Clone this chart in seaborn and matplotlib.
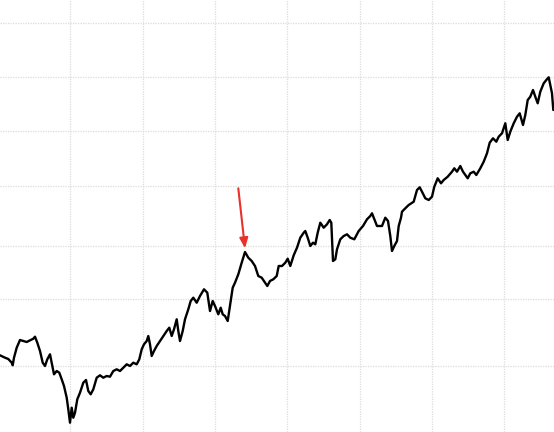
import matplotlib
matplotlib.use("Agg")
import matplotlib.pyplot as plt
import seaborn as sns
import pandas as pd

# series (x: time index, y: level)
xs = [0, 5, 8.3, 11.7, 12.7, 14, 16.7, 20, 23.3, 26.7, 30, 33.3, 35, 37.3, 40, 42.7, 45, 47.3, 50, 51.7,
      54, 56.7, 59.3, 61.7, 64, 66.7, 68.3, 70, 71.7, 73.3, 75, 77.3, 80, 83.3, 86, 88.3, 90.7, 93.3, 96.7, 100,
      103.3, 106.7, 110, 113.3, 116.7, 120, 123.3, 126.7, 130, 133.3, 136.7, 139.3, 141.7, 144, 146.7, 148.3, 150, 151.7, 154, 156.7,
      160, 163.3, 166.7, 169.3, 171.7, 174, 176.7, 178.3, 180, 182.7, 185, 188.3, 190.7, 193.3, 196.7, 200, 204, 207.3, 210, 212.7,
      215, 218.3, 220.7, 222.7, 225, 227.7, 230, 232.7, 235, 238.3, 241.7, 245, 248.3, 251.7, 255, 258.3, 261.7, 265, 267.3, 270,
      273.3, 276.7, 278.7, 282, 285.3, 287.7, 290.3, 293.7, 297, 300.3, 303.7, 305.3, 307.7, 310.3, 313, 315.3, 317.7, 320.3, 323.7, 327,
      329.7, 331.3, 333, 335.3, 337, 340.3, 343.7, 347, 350.3, 354.3, 358.7, 363, 367, 370.3, 372, 377, 382, 385.3, 388, 390.3,
      392, 394.3, 397, 398.7, 401, 402, 405.3, 408.7, 413.7, 417, 419.7, 422, 425.3, 428.7, 432, 434.3, 437.7, 441, 443.7, 447.7,
      452, 454.3, 457, 460.3, 463, 465.3, 467.7, 470.3, 473.7, 476.3, 480.3, 483.7, 487, 489.7, 493, 496.3, 498.7, 502, 505.3, 507.7,
      510.3, 513.7, 517, 519.7, 523, 525.3, 527.7, 530.3, 533, 535.3, 537.7, 540.3, 543.7, 546.3, 548.7, 550.3, 552, 553.3]
py = [355.3, 357.7, 359, 362.7, 365.3, 357.7, 347.7, 340, 341, 342, 340.3, 338.7, 336.7, 342.7, 351, 362.7, 366, 359.3, 354.3, 362.7,
      374.3, 371, 372.7, 379.3, 386, 397.7, 409.3, 422.7, 407.7, 417.7, 412.7, 399.3, 392.7, 382.7, 380, 391, 394.3, 389.3, 377.7, 375.3,
      377.7, 376, 376.7, 371, 369.3, 371, 367.7, 364.3, 366, 362.7, 364.3, 359.3, 349.3, 344.3, 341, 336, 344.3, 356, 351, 346,
      341, 336, 331, 327.7, 336, 329.3, 319.3, 331, 341, 331, 319.3, 309.3, 301, 297.7, 302.7, 296, 289.3, 292.7, 311, 301,
      306, 314.3, 307.7, 314.3, 316, 321, 306, 287.7, 282.7, 274.3, 262.7, 252, 257.7, 261, 266, 276, 277.7, 282.7, 286, 281,
      279.3, 276, 266, 266, 262.7, 258.7, 266, 255.3, 247.7, 237.7, 232.7, 231, 237.7, 246, 242.7, 244.3, 232.7, 222.7, 227.7, 224.3,
      220, 222.7, 261, 259.3, 249.3, 239.3, 236, 234.3, 237.7, 239.3, 231, 226, 219.3, 216, 213.3, 226, 226, 217.7, 221, 236,
      251, 246, 241, 226, 217.7, 211.7, 208.3, 205, 201.7, 190, 187.3, 191.7, 198.3, 200, 196.7, 186.7, 178.3, 183.3, 180, 176.7,
      171.7, 168.3, 171.7, 166, 171.7, 175, 178.3, 173.3, 171.7, 175, 168.3, 161.7, 153.3, 142.7, 138.3, 141.7, 136.7, 133.3, 123.3, 140,
      131.7, 123.3, 116.7, 113.3, 125, 115, 100, 96.7, 90, 96.7, 103.3, 91.7, 83.3, 80, 77.3, 85, 93.3, 110]
levels = [432 - p for p in py]

x_grid = [70.3, 142.7, 215, 287.3, 359.7, 432, 504.3]
y_grid = [409.3, 354.7, 301.3, 246.3, 186, 132.7, 66]

arrow_from = (238.3, 243.7)
arrow_to = (245, 183.7)

df = pd.DataFrame({"t": xs, "level": levels})

sns.set_style("white")
fig = plt.figure(figsize=(5.54, 4.32), dpi=100)
ax = fig.add_axes([0, 0, 1, 1])
sns.lineplot(data=df, x="t", y="level", ax=ax, color="black", linewidth=1.7)

ax.set_xlim(0, 554)
ax.set_ylim(0, 432)
ax.set_xticks(x_grid)
ax.set_yticks(y_grid)
ax.grid(True, color="#dcdcdc", linestyle=(0, (1, 1)), linewidth=0.9)
ax.tick_params(length=0, labelbottom=False, labelleft=False)
ax.set_xlabel("")
ax.set_ylabel("")
for s in ax.spines.values():
    s.set_visible(False)

ax.annotate("", xy=arrow_to, xytext=arrow_from,
            arrowprops=dict(arrowstyle="-|>,head_length=0.6,head_width=0.25", color="#e8312a", lw=1.5,
                            shrinkA=0, shrinkB=0))

fig.savefig("out.png", dpi=100)
